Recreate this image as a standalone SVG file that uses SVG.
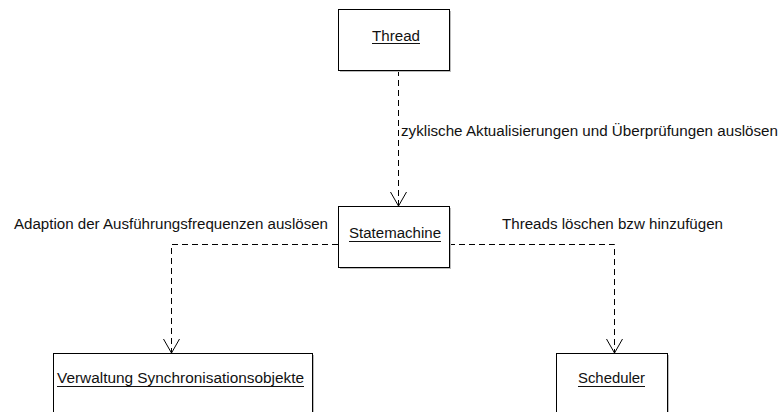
<svg xmlns="http://www.w3.org/2000/svg" width="783" height="412" viewBox="0 0 783 412">
<defs>
<style>
.box{fill:#fff;stroke:#000;stroke-width:1}
.shadow{fill:#bbb}
.lbl{font-family:"Liberation Sans",Arial,sans-serif;font-size:14px;fill:#111}
.ul{stroke:#111;stroke-width:1}
.conn{fill:none;stroke:#000;stroke-width:1;stroke-dasharray:6,4}
.head{fill:none;stroke:#000;stroke-width:1}
</style>
<marker id="open" viewBox="0 0 20 20" refX="16" refY="10" markerWidth="20" markerHeight="20" markerUnits="userSpaceOnUse" orient="auto">
<path class="head" d="M2,2 L16,10 L2,18"/>
</marker>
</defs>
<rect width="783" height="412" fill="#fff"/>
<g id="connectors">
<path class="conn" d="M398.5,70 L398.5,206" marker-end="url(#open)"/>
<path class="conn" d="M338,244.5 L171.5,244.5 L171.5,353" marker-end="url(#open)"/>
<path class="conn" d="M449,244.5 L614.5,244.5 L614.5,353" marker-end="url(#open)"/>
<text class="lbl" x="401" y="136" textLength="377" lengthAdjust="spacingAndGlyphs">zyklische Aktualisierungen und Überprüfungen auslösen</text>
<text class="lbl" x="14" y="229" textLength="314" lengthAdjust="spacingAndGlyphs">Adaption der Ausführungsfrequenzen auslösen</text>
<text class="lbl" x="502" y="229" textLength="221" lengthAdjust="spacingAndGlyphs">Threads löschen bzw hinzufügen</text>
</g>
<g id="thread">
<rect class="shadow" x="340" y="11" width="111" height="61"/>
<rect class="box" x="338.5" y="9.5" width="111" height="61"/>
<text class="lbl" x="372" y="41" textLength="48" lengthAdjust="spacingAndGlyphs">Thread</text>
<line class="ul" x1="372" y1="43.5" x2="420" y2="43.5"/>
</g>
<g id="statemachine">
<rect class="shadow" x="340" y="208" width="111" height="61"/>
<rect class="box" x="338.5" y="206.5" width="111" height="61"/>
<text class="lbl" x="349" y="238" textLength="92" lengthAdjust="spacingAndGlyphs">Statemachine</text>
<line class="ul" x1="349" y1="241.5" x2="441" y2="241.5"/>
</g>
<g id="verwaltung">
<rect class="shadow" x="55" y="355" width="259" height="70"/>
<rect class="box" x="53.5" y="353.5" width="259" height="70"/>
<text class="lbl" x="57" y="383" textLength="247" lengthAdjust="spacingAndGlyphs">Verwaltung Synchronisationsobjekte</text>
<line class="ul" x1="57" y1="386.5" x2="304" y2="386.5"/>
</g>
<g id="scheduler">
<rect class="shadow" x="558" y="355" width="111" height="70"/>
<rect class="box" x="556.5" y="353.5" width="111" height="70"/>
<text class="lbl" x="578" y="383" textLength="67" lengthAdjust="spacingAndGlyphs">Scheduler</text>
<line class="ul" x1="578" y1="386.5" x2="645" y2="386.5"/>
</g>
</svg>
